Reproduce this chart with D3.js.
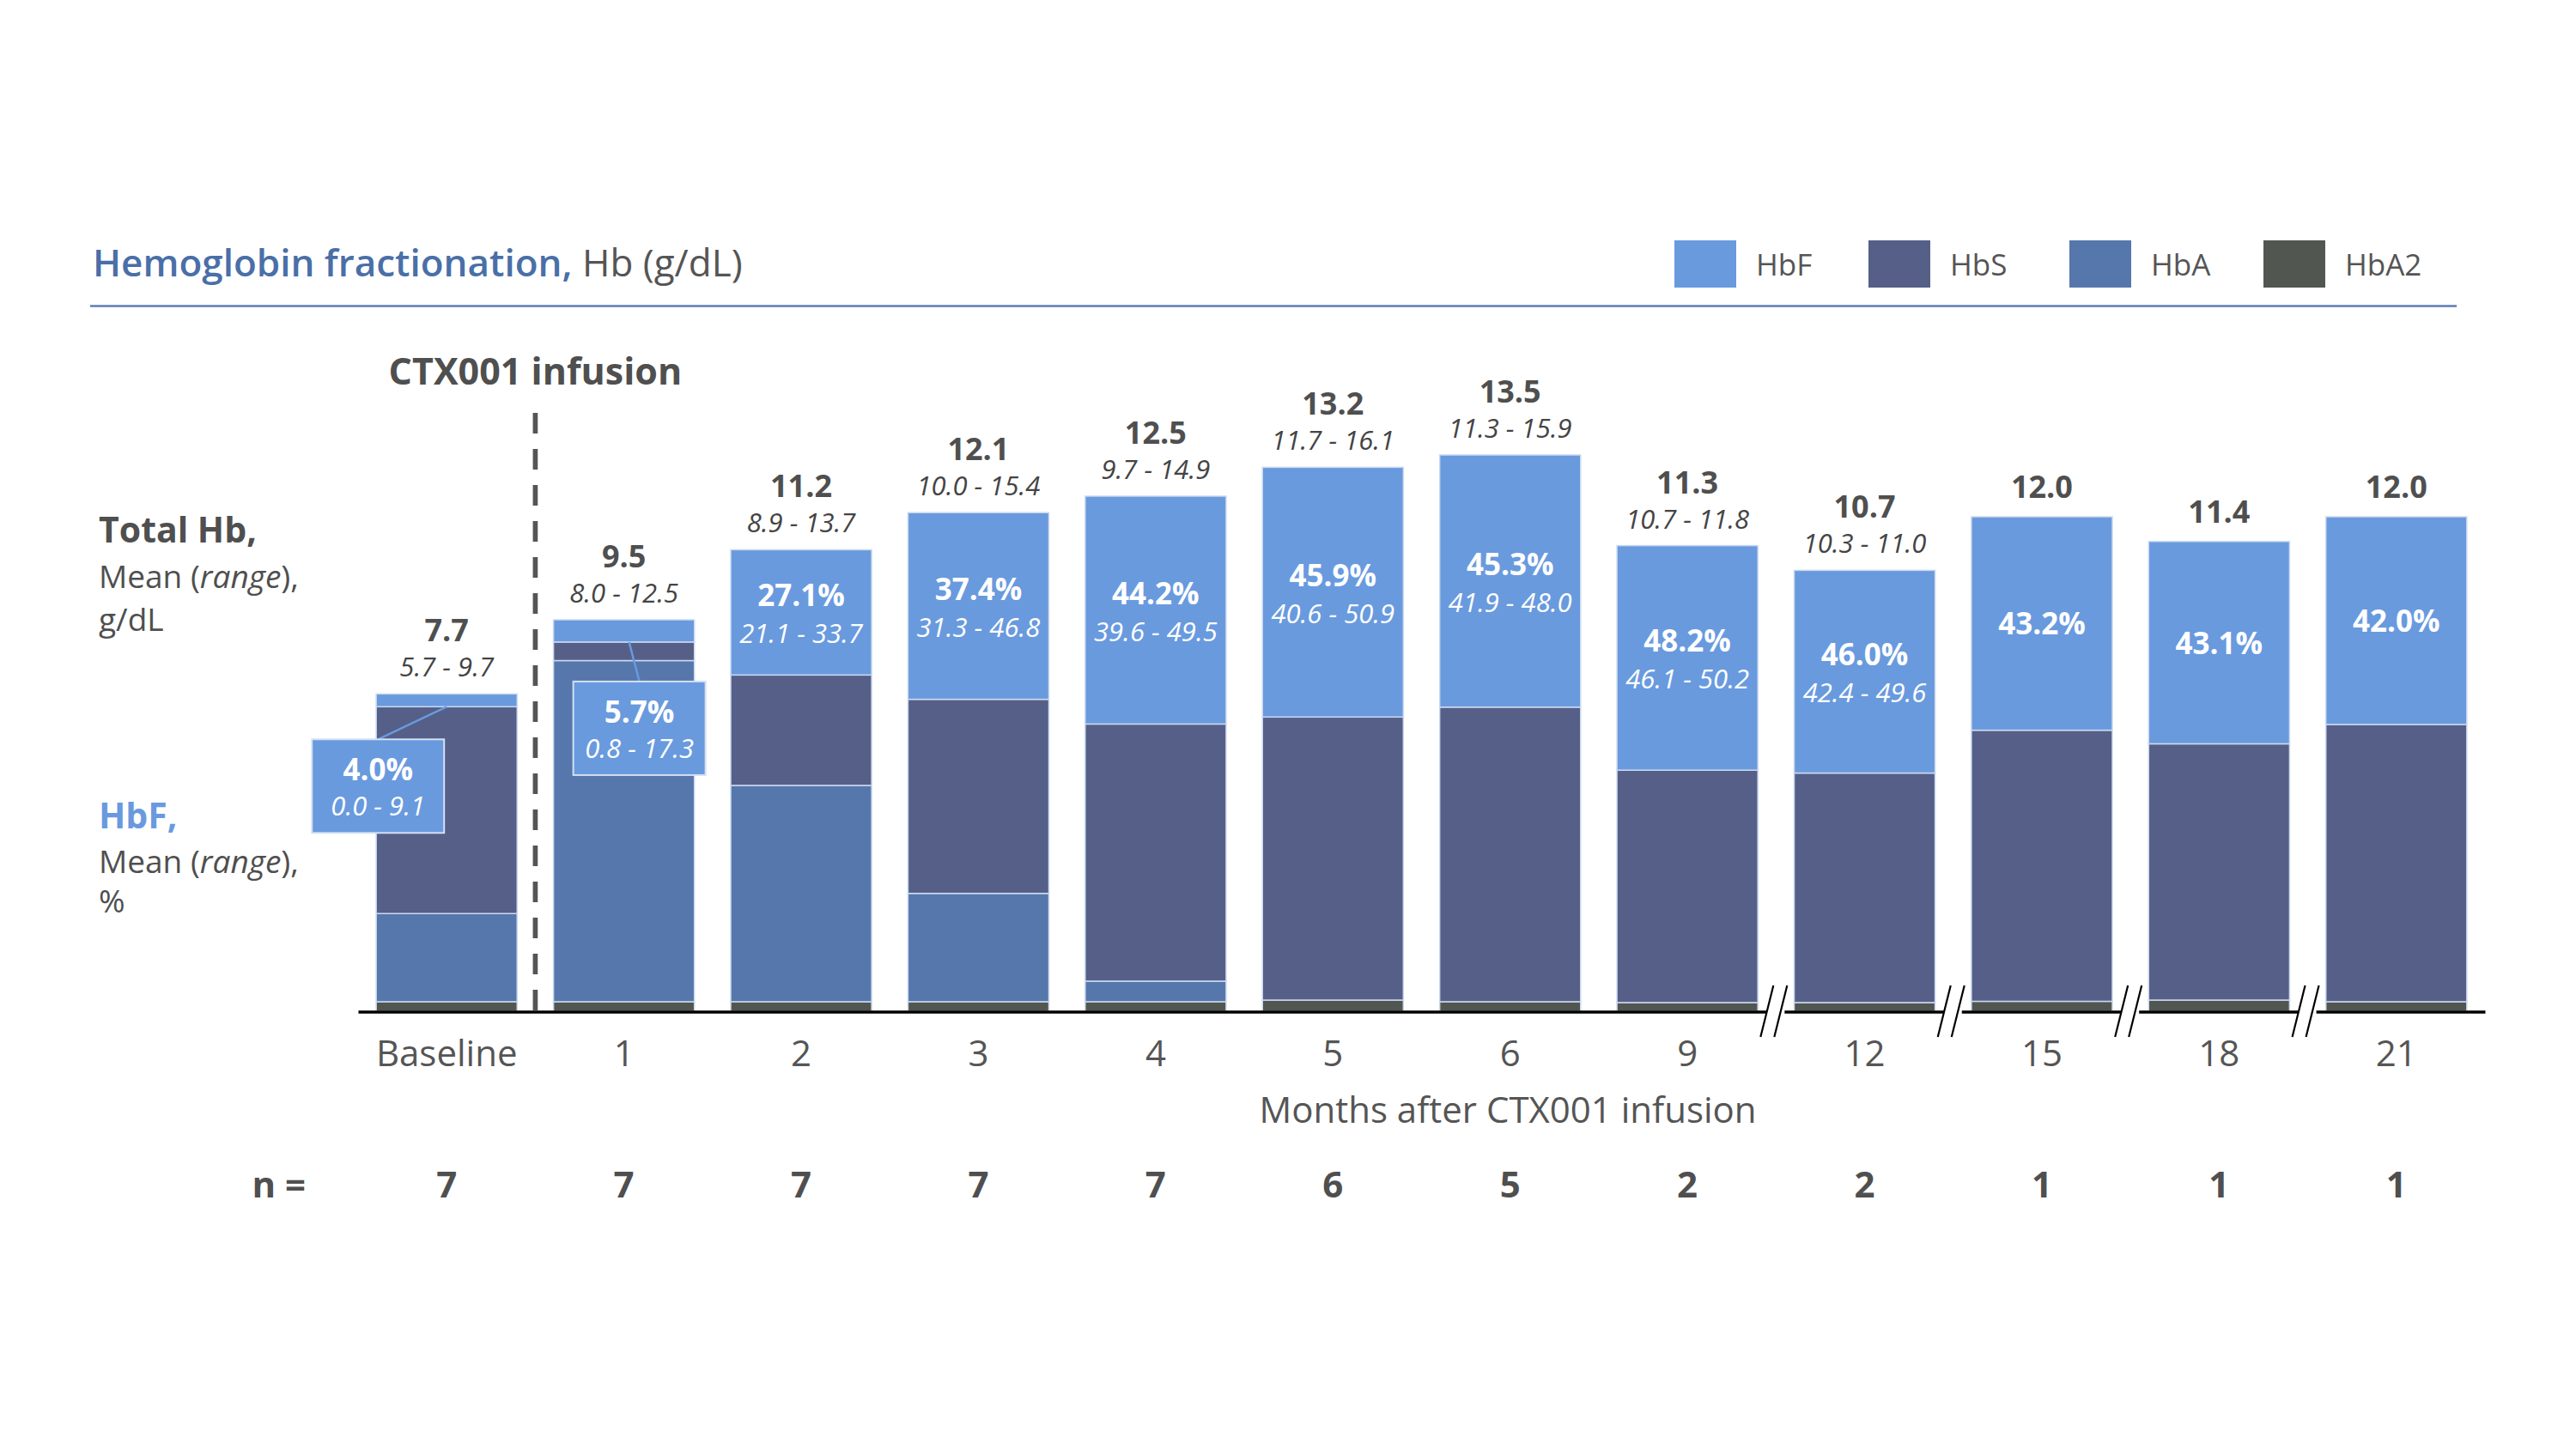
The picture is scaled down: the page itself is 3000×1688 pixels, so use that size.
<!DOCTYPE html>
<html>
<head>
<meta charset="utf-8">
<script src="https://cdn.jsdelivr.net/npm/d3@7"></script>
<style>
  html, body { margin: 0; padding: 0; background: #ffffff; }
  svg { display: block; font-family: "Open Sans", "Noto Sans", sans-serif; }
</style>
</head>
<body>
<svg id="chart" width="3000" height="1688"></svg>
<script>
// ---------------- DATA ----------------
const categories = ["Baseline", "1", "2", "3", "4", "5", "6", "9", "12", "15", "18", "21"];
const totalHb = [7.7, 9.5, 11.2, 12.1, 12.5, 13.2, 13.5, 11.3, 10.7, 12.0, 11.4, 12.0];
const totalHbRange = ["5.7 - 9.7", "8.0 - 12.5", "8.9 - 13.7", "10.0 - 15.4", "9.7 - 14.9", "11.7 - 16.1", "11.3 - 15.9", "10.7 - 11.8", "10.3 - 11.0", "", "", ""];
const hbfPercent = ["4.0%", "5.7%", "27.1%", "37.4%", "44.2%", "45.9%", "45.3%", "48.2%", "46.0%", "43.2%", "43.1%", "42.0%"];
const hbfRange = ["0.0 - 9.1", "0.8 - 17.3", "21.1 - 33.7", "31.3 - 46.8", "39.6 - 49.5", "40.6 - 50.9", "41.9 - 48.0", "46.1 - 50.2", "42.4 - 49.6", "", "", ""];
const hbF  = [0.31, 0.54, 3.04, 4.53, 5.53, 6.06, 6.12, 5.45, 4.92, 5.18, 4.91, 5.04];
const hbS  = [5.02, 0.45, 2.68, 4.71, 6.24, 6.87, 7.15, 5.64, 5.57, 6.58, 6.22, 6.73];
const hbA  = [2.14, 8.28, 5.25, 2.63, 0.50, 0, 0, 0, 0, 0, 0, 0];
const hbA2 = [0.23, 0.23, 0.23, 0.23, 0.23, 0.27, 0.23, 0.21, 0.21, 0.24, 0.27, 0.23];
const nValues = [7, 7, 7, 7, 7, 6, 5, 2, 2, 1, 1, 1];
const breakAfter = ["9", "12", "15", "18"];
const seriesNames = ["HbF", "HbS", "HbA", "HbA2"];
const seriesKeys = ["hbF", "hbS", "hbA", "hbA2"];
const seriesColors = ["#699ade", "#555f88", "#5677ac", "#525650"];
const calloutBars = ["Baseline", "1"];

// ---------------- BUILD TABLE ----------------
const table = categories.map((c, i) => ({
  cat: c, hbF: hbF[i], hbS: hbS[i], hbA: hbA[i], hbA2: hbA2[i],
  total: totalHb[i], totalRange: totalHbRange[i], pct: hbfPercent[i], pctRange: hbfRange[i], n: nValues[i]
}));
const colorOf = d3.scaleOrdinal().domain(seriesKeys).range(seriesColors);

// ---------------- LAYOUT ----------------
const svg = d3.select("#chart");
const textDark = "#4f4f4f";
const blueTitle = "#4a6fa8";
const y0 = 1178;

const x = d3.scaleBand().domain(categories).range([417, 2894]).paddingInner(0.205).paddingOuter(0.1025);
const y = d3.scaleLinear().domain([0, 16]).range([y0, y0 - 16 * 48]);

// Title
const title = svg.append("text").attr("x", 108).attr("y", 322).attr("font-size", 44);
title.append("tspan").attr("fill", blueTitle).attr("font-weight", 600).text("Hemoglobin fractionation,");
title.append("tspan").attr("fill", "#555").attr("font-weight", 400).text(" Hb (g/dL)");
svg.append("line").attr("x1", 105).attr("x2", 2861).attr("y1", 356.5).attr("y2", 356.5)
  .attr("stroke", "#5b7db5").attr("stroke-width", 2.5);

// Legend
const legendX = [1950, 2176, 2410, 2636];
const legend = svg.append("g");
seriesNames.forEach((name, i) => {
  const g = legend.append("g").attr("transform", `translate(${legendX[i]},280)`);
  g.append("rect").attr("width", 72).attr("height", 55).attr("fill", seriesColors[i]);
  g.append("text").attr("x", 95).attr("y", 41).attr("font-size", 35).attr("fill", "#555").text(name);
});

// Left side labels
const left = svg.append("g").attr("fill", textDark);
left.append("text").attr("x", 115).attr("y", 632).attr("font-size", 41).attr("font-weight", 700).text("Total Hb,");
const m1 = left.append("text").attr("x", 115).attr("y", 685).attr("font-size", 37);
m1.append("tspan").text("Mean (");
m1.append("tspan").attr("font-style", "italic").text("range");
m1.append("tspan").text("),");
left.append("text").attr("x", 115).attr("y", 735).attr("font-size", 37).text("g/dL");
left.append("text").attr("x", 115).attr("y", 965).attr("font-size", 41).attr("font-weight", 700).attr("fill", seriesColors[0]).text("HbF,");
const m2 = left.append("text").attr("x", 115).attr("y", 1017).attr("font-size", 37);
m2.append("tspan").text("Mean (");
m2.append("tspan").attr("font-style", "italic").text("range");
m2.append("tspan").text("),");
left.append("text").attr("x", 115).attr("y", 1063).attr("font-size", 37).text("%");

// Stacked bars
const stack = d3.stack().keys(["hbA2", "hbA", "hbS", "hbF"]);
const layers = stack(table);
const barsG = svg.append("g");
barsG.selectAll("g.layer").data(layers).join("g").attr("class", "layer")
  .attr("fill", d => colorOf(d.key))
  .selectAll("rect").data(d => d).join("rect")
  .attr("x", d => x(d.data.cat))
  .attr("width", x.bandwidth())
  .attr("y", d => y(d[1]))
  .attr("height", d => Math.max(0, y(d[0]) - y(d[1])))
  .attr("stroke", d => (d[1] - d[0]) > 0 ? "#cbd9ef" : "none")
  .attr("stroke-width", 1.5);

// X axis
const xAxis = d3.axisBottom(x).tickSize(0).tickSizeOuter(0).tickPadding(34);
const axisG = svg.append("g").attr("transform", `translate(0,${y0 + 0.5})`).call(xAxis);
axisG.select(".domain").attr("stroke", "#000").attr("stroke-width", 3.5);
axisG.selectAll(".tick text").attr("font-size", 42).attr("fill", "#555").attr("font-family", "Open Sans, sans-serif");

// Axis breaks
breakAfter.forEach(c => {
  const i = categories.indexOf(c);
  const xm = (x(categories[i]) + x.bandwidth() + x(categories[i + 1])) / 2 - 2;
  svg.append("rect").attr("x", xm - 9).attr("y", y0 - 3).attr("width", 21).attr("height", 8).attr("fill", "#fff");
  [-8, 8].forEach(off => {
    svg.append("line")
      .attr("x1", xm + off - 8).attr("y1", y0 + 30)
      .attr("x2", xm + off + 7).attr("y2", y0 - 30)
      .attr("stroke", "#000").attr("stroke-width", 2.2);
  });
});

svg.append("text").attr("x", 1756).attr("y", 1308).attr("text-anchor", "middle")
  .attr("font-size", 42).attr("fill", "#555").text("Months after CTX001 infusion");

// n row
svg.append("text").attr("x", 356).attr("y", 1395).attr("text-anchor", "end")
  .attr("font-size", 42).attr("font-weight", 700).attr("fill", textDark).text("n =");
svg.append("g").selectAll("text").data(table).join("text")
  .attr("x", d => x(d.cat) + x.bandwidth() / 2).attr("y", 1395)
  .attr("text-anchor", "middle").attr("font-size", 42).attr("font-weight", 700).attr("fill", textDark)
  .text(d => d.n);

// Infusion dashed line
const xDash = (x("Baseline") + x.bandwidth() + x("1")) / 2;
svg.append("line").attr("x1", xDash).attr("x2", xDash).attr("y1", 481).attr("y2", y0)
  .attr("stroke", "#555").attr("stroke-width", 5.7).attr("stroke-dasharray", "24,18");
svg.append("text").attr("x", xDash).attr("y", 448).attr("text-anchor", "middle")
  .attr("font-size", 43).attr("font-weight", 700).attr("fill", textDark).text("CTX001 infusion");

// Total Hb labels
const topLabels = svg.append("g").attr("text-anchor", "middle").attr("fill", textDark);
table.forEach(d => {
  const cx = x(d.cat) + x.bandwidth() / 2;
  const top = y(d.total);
  const hasRange = d.totalRange !== "";
  topLabels.append("text").attr("x", cx).attr("y", hasRange ? top - 61 : top - 22)
    .attr("font-size", 36).attr("font-weight", 700).text(d.total.toFixed(1));
  if (hasRange) {
    topLabels.append("text").attr("x", cx).attr("y", top - 20)
      .attr("font-size", 31).attr("font-style", "italic").attr("fill", "#444").text(d.totalRange);
  }
});

// HbF labels inside bars
const inLabels = svg.append("g").attr("text-anchor", "middle").attr("fill", "#fff");
table.forEach(d => {
  if (calloutBars.includes(d.cat)) return;
  const cx = x(d.cat) + x.bandwidth() / 2;
  const top = y(d.total);
  const bot = y(d.total - d.hbF);
  const mid = (top + bot) / 2;
  const hasRange = d.pctRange !== "";
  inLabels.append("text").attr("x", cx).attr("y", hasRange ? mid - 7 : mid + 13)
    .attr("font-size", 35).attr("font-weight", 700).text(d.pct);
  if (hasRange) {
    inLabels.append("text").attr("x", cx).attr("y", mid + 36)
      .attr("font-size", 31).attr("font-style", "italic").text(d.pctRange);
  }
});

// Callouts for small HbF segments
const calloutLayout = { "Baseline": { dx: -80, dy: 38, lx: 0 }, "1": { dx: 18, dy: 46, lx: 6 } };
const boxW = 154, boxH = 109;
calloutBars.forEach(c => {
  const d = table.find(t => t.cat === c);
  const L = calloutLayout[c];
  const cx = x(c) + x.bandwidth() / 2;
  const hbfBottom = y(d.total - d.hbF);
  const bx = cx + L.dx;
  const by = hbfBottom + L.dy;
  svg.append("line").attr("x1", cx + L.lx).attr("y1", hbfBottom).attr("x2", bx).attr("y2", by)
    .attr("stroke", seriesColors[0]).attr("stroke-width", 2.5);
  svg.append("rect").attr("x", bx - boxW / 2).attr("y", by).attr("width", boxW).attr("height", boxH)
    .attr("fill", seriesColors[0]).attr("stroke", "#d3e0f3").attr("stroke-width", 2);
  svg.append("text").attr("x", bx).attr("y", by + 48).attr("text-anchor", "middle")
    .attr("font-size", 35).attr("font-weight", 700).attr("fill", "#fff").text(d.pct);
  svg.append("text").attr("x", bx).attr("y", by + 89).attr("text-anchor", "middle")
    .attr("font-size", 31).attr("font-style", "italic").attr("fill", "#fff").text(d.pctRange);
});
</script>
</body>
</html>
